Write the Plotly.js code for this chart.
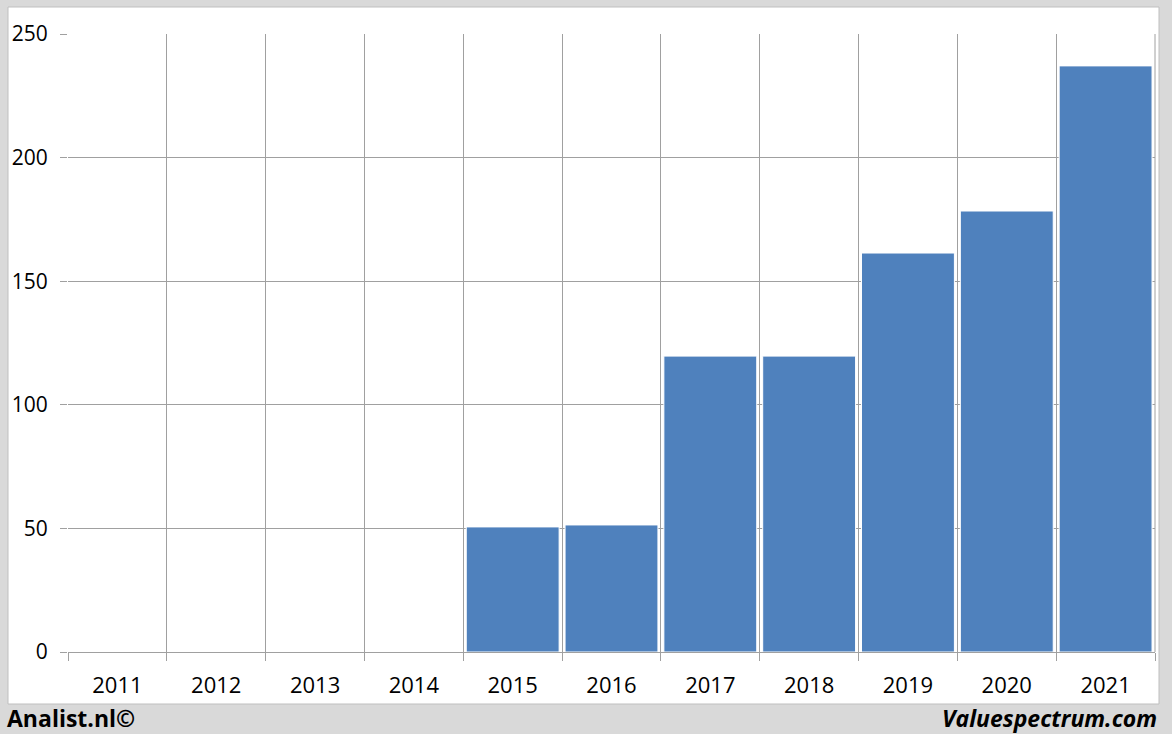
<!DOCTYPE html>
<html>
<head>
<meta charset="utf-8">
<script src="https://cdn.plot.ly/plotly-3.0.1.min.js"></script>
<style>html,body{margin:0;padding:0;background:#d9d9d9;}#chart{width:1172px;height:734px;}</style>
</head>
<body>
<div id="chart"></div>
<script>
const years = ['2011','2012','2013','2014','2015','2016','2017','2018','2019','2020','2021'];
const values = [null, null, null, null, 50.6, 51.4, 119.7, 119.7, 161.4, 178.4, 237.1];
const yTicks = [0, 50, 100, 150, 200, 250];

const FONT = 'Open Sans, Liberation Sans, sans-serif';
const trace = {
  type: 'bar',
  x: years,
  y: values,
  marker: {color: '#4f81bd', line: {color: '#ffffff', width: 1}},
  hoverinfo: 'skip'
};
const layout = {
  width: 1172, height: 734,
  margin: {l: 68, r: 17, t: 34, b: 82},
  paper_bgcolor: '#d9d9d9',
  plot_bgcolor: '#ffffff',
  bargap: 0.06,
  showlegend: false,
  font: {family: FONT, size: 21, color: '#000000'},
  xaxis: {
    type: 'category',
    range: [-0.5, 10.5],
    tickson: 'boundaries',
    ticks: 'outside', ticklen: 8, tickcolor: '#a0a0a0', tickwidth: 1,
    showgrid: true, gridcolor: '#a0a0a0', gridwidth: 1,
    showline: true, linecolor: '#a0a0a0', linewidth: 1,
    zeroline: false,
    ticklabelstandoff: 14,
    tickfont: {family: FONT, size: 22, color: '#000'},
    fixedrange: true
  },
  yaxis: {
    range: [0, 250],
    tickvals: yTicks,
    ticktext: yTicks.map(String),
    ticks: 'outside', ticklen: 7, tickcolor: '#a0a0a0', tickwidth: 1,
    showgrid: true, gridcolor: '#a0a0a0', gridwidth: 1,
    zeroline: false, showline: false,
    ticklabelstandoff: 8,
    tickfont: {family: FONT, size: 21, color: '#000'},
    fixedrange: true
  },
  shapes: [
    {type: 'rect', xref: 'paper', yref: 'paper', layer: 'below',
     x0: (8 - 68) / 1087, x1: (1159 - 68) / 1087,
     y0: (652 - 704) / 618, y1: (652 - 7) / 618,
     fillcolor: '#ffffff', line: {color: '#bfbfbf', width: 1}},
    {type: 'line', xref: 'paper', yref: 'paper', layer: 'above',
     x0: 1, x1: 1, y0: 0, y1: 1, line: {color: '#a0a0a0', width: 1}}
  ],
  annotations: [
    {xref: 'paper', yref: 'paper', x: (5 - 68) / 1087, y: (652 - 718) / 618,
     xanchor: 'left', yanchor: 'middle', showarrow: false,
     text: '<b>Analist.nl©</b>', font: {family: FONT, size: 23, color: '#000'}},
    {xref: 'paper', yref: 'paper', x: (1159 - 68) / 1087, y: (652 - 718) / 618,
     xanchor: 'right', yanchor: 'middle', showarrow: false,
     text: '<b><i>Valuespectrum.com</i></b>', font: {family: FONT, size: 23, color: '#000'}}
  ]
};
Plotly.newPlot('chart', [trace], layout, {displayModeBar: false, staticPlot: true});
</script>
</body>
</html>
